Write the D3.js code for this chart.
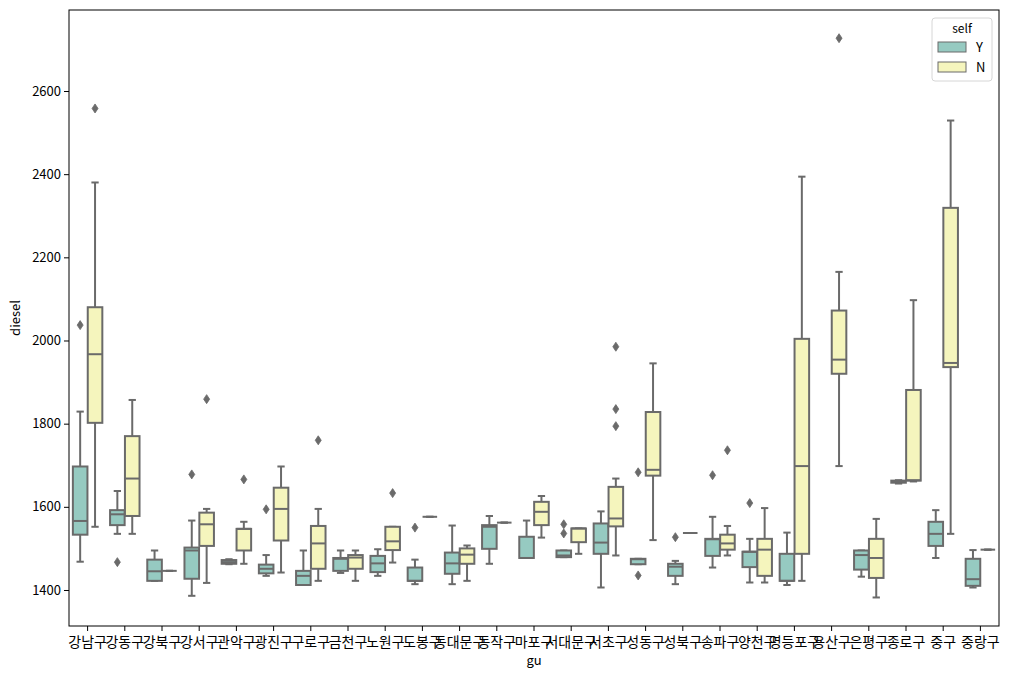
<!DOCTYPE html>
<html>
<head>
<meta charset="utf-8">
<script src="https://cdn.jsdelivr.net/npm/d3@7"></script>
<style>
  body { margin: 0; background: #fff; }
  svg { display: block; }
  text { font-family: "Noto Sans CJK KR", "Noto Sans", sans-serif; }
</style>
</head>
<body>
<svg id="chart" width="1010" height="677"></svg>
<script>
// ---- data (box statistics) ----
const categories = ["강남구","강동구","강북구","강서구","관악구","광진구","구로구","금천구","노원구","도봉구",
  "동대문구","동작구","마포구","서대문구","서초구","성동구","성북구","송파구","양천구","영등포구",
  "용산구","은평구","종로구","중구","중랑구"];
const hues = ["Y", "N"];
// [whisker low, Q1, median, Q3, whisker high]
const statsY = [
  [1468,1533,1566,1697,1829],
  [1535,1556,1582,1592,1638],
  [1422,1422,1445,1473,1495],
  [1386,1427,1495,1502,1567],
  [1462,1463,1467,1472,1474],
  [1434,1440,1451,1461,1484],
  [1412,1412,1434,1446,1495],
  [1441,1446,1475,1477,1495],
  [1434,1443,1464,1482,1498],
  [1414,1422,1422,1454,1473],
  [1414,1439,1464,1490,1555],
  [1463,1499,1552,1556,1578],
  [1477,1477,1477,1528,1567],
  [1479,1479,1483,1495,1495],
  [1406,1487,1514,1560,1589],
  [1462,1462,1474,1475,1475],
  [1414,1434,1456,1463,1470],
  [1454,1482,1522,1523,1576],
  [1418,1455,1492,1492,1523],
  [1412,1422,1422,1487,1538],
  null,
  [1432,1449,1484,1495,1495],
  [1656,1658,1660,1663,1664],
  [1477,1506,1535,1564,1592],
  [1406,1410,1426,1475,1496]
];
const statsN = [
  [1552,1802,1967,2080,2380],
  [1535,1578,1668,1770,1857],
  [1446,1446,1446,1446,1446],
  [1417,1506,1558,1586,1595],
  [1463,1495,1547,1547,1564],
  [1442,1519,1595,1646,1697],
  [1422,1451,1512,1554,1595],
  [1422,1451,1478,1484,1495],
  [1466,1496,1517,1552,1552],
  [1576,1576,1576,1576,1576],
  [1422,1463,1485,1500,1507],
  [1562,1562,1562,1562,1562],
  [1526,1556,1588,1612,1626],
  [1487,1515,1548,1548,1548],
  [1483,1553,1572,1648,1668],
  [1520,1675,1689,1828,1945],
  [1537,1537,1537,1537,1537],
  [1483,1497,1512,1533,1554],
  [1418,1434,1497,1523,1597],
  [1422,1487,1698,2004,2394],
  [1698,1920,1954,2072,2165],
  [1382,1429,1477,1523,1571],
  [1661,1663,1664,1881,2097],
  [1535,1936,1946,2319,2529],
  [1497,1497,1497,1497,1497]
];
const outliersY = [
  [2037],[1467],[],[1678],[],[1594],[],[],[],[1550],
  [],[],[],[1558,1536],[],[1683,1435],[1527],[1676],[1609],[],
  [],[],[],[],[]
];
const outliersN = [
  [2558],[],[],[1859],[1666],[],[1760],[],[1633],[],
  [],[],[],[],[1985,1835,1794],[],[],[1736],[],[],
  [2727],[],[],[],[]
];
const yTicks = [1400,1600,1800,2000,2200,2400,2600];
const hueColors = ["#96cac1", "#f5f5bd"];
const lineColor = "#6a6a6a";

// ---- layout ----
const L = 69, R = 999, T = 10, B = 626;
const svg = d3.select("#chart");
const x = d3.scaleBand().domain(categories).range([L, R]).padding(0);
const y = d3.scaleLinear().domain([1313.4, 2794.8]).range([B, T]);
const hueScale = d3.scaleBand().domain(hues).range([-0.4, 0.4]);
const step = x.bandwidth();
const boxW = step * 0.4 * 0.98;

const g = svg.append("g");

function drawBox(stats, outs, ci, hi) {
  const cx = x(categories[ci]) + step / 2 + (hueScale(hues[hi]) + hueScale.bandwidth() / 2) * step;
  const grp = g.append("g");
  if (stats) {
    const [wl, q1, md, q3, wh] = stats;
    // whiskers
    grp.append("line").attr("x1", cx).attr("x2", cx).attr("y1", y(q3)).attr("y2", y(wh))
      .attr("stroke", lineColor).attr("stroke-width", 2);
    grp.append("line").attr("x1", cx).attr("x2", cx).attr("y1", y(q1)).attr("y2", y(wl))
      .attr("stroke", lineColor).attr("stroke-width", 2);
    // caps
    [wl, wh].forEach(v => grp.append("line")
      .attr("x1", cx - boxW / 4).attr("x2", cx + boxW / 4).attr("y1", y(v)).attr("y2", y(v))
      .attr("stroke", lineColor).attr("stroke-width", 2));
    // box
    grp.append("rect").attr("x", cx - boxW / 2).attr("width", boxW)
      .attr("y", y(q3)).attr("height", Math.max(0, y(q1) - y(q3)))
      .attr("fill", hueColors[hi]).attr("stroke", lineColor).attr("stroke-width", 2);
    // median
    grp.append("line").attr("x1", cx - boxW / 2).attr("x2", cx + boxW / 2)
      .attr("y1", y(md)).attr("y2", y(md)).attr("stroke", lineColor).attr("stroke-width", 2);
  }
  // outliers (thin diamonds)
  outs.forEach(v => {
    const py = y(v);
    grp.append("path")
      .attr("d", `M${cx},${py - 4.5}L${cx + 3},${py}L${cx},${py + 4.5}L${cx - 3},${py}Z`)
      .attr("fill", lineColor).attr("stroke", lineColor).attr("stroke-width", 0.8);
  });
}

categories.forEach((c, i) => {
  drawBox(statsY[i], outliersY[i], i, 0);
  drawBox(statsN[i], outliersN[i], i, 1);
});

// ---- axes ----
const xAxis = d3.axisBottom(x).tickSize(5).tickSizeOuter(0);
const yAxis = d3.axisLeft(y).tickValues(yTicks).tickSize(5).tickSizeOuter(0).tickFormat(d3.format("d"));

const gx = svg.append("g").attr("transform", `translate(0,${B})`).call(xAxis);
gx.select(".domain").remove();
gx.selectAll("text").attr("font-size", 14).attr("fill", "#000").attr("dy", "0.9em")
  .style("font-family", "'Noto Sans CJK KR', sans-serif");
gx.selectAll("line").attr("stroke", "#000");

const gy = svg.append("g").attr("transform", `translate(${L},0)`).call(yAxis);
gy.select(".domain").remove();
gy.selectAll("text").attr("font-size", 13).attr("fill", "#000")
  .style("font-family", "'Noto Sans CJK KR', sans-serif");
gy.selectAll("line").attr("stroke", "#000");

// frame
svg.append("rect").attr("x", L).attr("y", T).attr("width", R - L).attr("height", B - T)
  .attr("fill", "none").attr("stroke", "#000").attr("stroke-width", 1);

// axis labels
svg.append("text").attr("x", (L + R) / 2).attr("y", 665).attr("text-anchor", "middle")
  .attr("font-size", 13).text("gu");
svg.append("text").attr("transform", `translate(20,${(T + B) / 2}) rotate(-90)`)
  .attr("text-anchor", "middle").attr("font-size", 13).text("diesel");

// ---- legend ----
const lg = svg.append("g").attr("transform", "translate(932,18)");
lg.append("rect").attr("x", 0).attr("y", 0).attr("width", 60).attr("height", 63).attr("rx", 3)
  .attr("fill", "#fff").attr("fill-opacity", 0.8).attr("stroke", "#d6d6d6");
lg.append("text").attr("x", 30).attr("y", 15).attr("text-anchor", "middle").attr("font-size", 12).text("self");
hues.forEach((h, i) => {
  lg.append("rect").attr("x", 6).attr("y", 24 + i * 20).attr("width", 28).attr("height", 10)
    .attr("fill", hueColors[i]).attr("stroke", lineColor).attr("stroke-width", 1);
  lg.append("text").attr("x", 44).attr("y", 34 + i * 20).attr("font-size", 13).text(h);
});
</script>
</body>
</html>
